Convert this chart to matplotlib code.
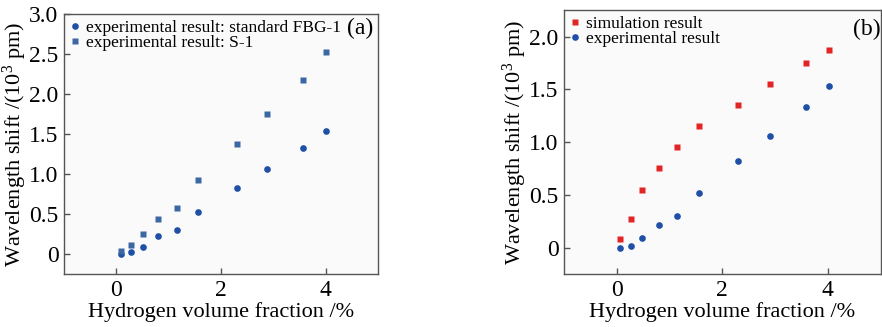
import matplotlib
matplotlib.use("Agg")
import matplotlib.pyplot as plt

plt.rcParams['font.family'] = ['Liberation Serif']
plt.rcParams['mathtext.fontset'] = 'custom'
plt.rcParams['mathtext.rm'] = 'Liberation Serif'
plt.rcParams['mathtext.it'] = 'Liberation Serif:italic'

# Panel (a)
x_a = [0.08, 0.28, 0.50, 0.80, 1.15, 1.56, 2.30, 2.88, 3.56, 4.00]
fbg1 = [0.00, 0.02, 0.09, 0.22, 0.30, 0.525, 0.82, 1.06, 1.33, 1.54]
s1 = [0.04, 0.11, 0.25, 0.44, 0.58, 0.92, 1.38, 1.75, 2.18, 2.53]

# Panel (b)
x_b = [0.06, 0.26, 0.48, 0.79, 1.14, 1.56, 2.30, 2.90, 3.59, 4.02]
sim = [0.08, 0.27, 0.55, 0.75, 0.95, 1.15, 1.35, 1.55, 1.75, 1.87]
exp_b = [0.00, 0.02, 0.095, 0.215, 0.30, 0.52, 0.82, 1.06, 1.335, 1.535]

xticks = [0, 2, 4]
yticks_a = [0, 0.5, 1.0, 1.5, 2.0, 2.5, 3.0]
yticklabels_a = ['0', '0.5', '1.0', '1.5', '2.0', '2.5', '3.0']
yticks_b = [0, 0.5, 1.0, 1.5, 2.0]
yticklabels_b = ['0', '0.5', '1.0', '1.5', '2.0']

xlabel = 'Hydrogen volume fraction /%'
ylabel = r'Wavelength shift /(10$^{\mathrm{3}}$ pm)'

blue = '#1f4fa6'
steel = '#3b68a3'
red = '#e32424'

fig = plt.figure(figsize=(8.82, 3.27), dpi=100)
ax1 = fig.add_axes([0.0726, 0.162, 0.356, 0.795])
ax2 = fig.add_axes([0.6395, 0.162, 0.359, 0.807])

for ax in (ax1, ax2):
    ax.set_facecolor('#fafafa')
    for sp in ax.spines.values():
        sp.set_color('#555555')
        sp.set_linewidth(1.0)
    ax.tick_params(direction='in', length=4, width=1.0, color='#555555',
                   labelsize=17, pad=4)
    ax.set_xlim(-1, 5)
    ax.set_xticks(xticks)
    ax.set_xticklabels([str(t) for t in xticks])
    ax.set_xlabel(xlabel, fontsize=16, labelpad=1)
    ax.set_ylabel(ylabel, fontsize=16, labelpad=0)

leg_kw = dict(loc='upper left', frameon=False, fontsize=12.5, handlelength=0.6,
              handletextpad=0.3, borderaxespad=0.15, labelspacing=-0.1,
              borderpad=0.2)

ax1.set_ylim(-0.25, 3.0)
ax1.set_yticks(yticks_a)
ax1.set_yticklabels(yticklabels_a)
ax1.plot(x_a, fbg1, 'o', color=blue, ms=4.8, mec='none',
         label='experimental result: standard FBG-1')
ax1.plot(x_a, s1, 's', color=steel, ms=4.3, mec='none',
         label='experimental result: S-1')
ax1.legend(**leg_kw)
ax1.text(0.943, 0.946, '(a)', transform=ax1.transAxes, ha='center', va='center',
         fontsize=17)

ax2.set_ylim(-0.25, 2.25)
ax2.set_yticks(yticks_b)
ax2.set_yticklabels(yticklabels_b)
ax2.plot(x_b, sim, 's', color=red, ms=4.5, mec='none', label='simulation result')
ax2.plot(x_b, exp_b, 'o', color=blue, ms=4.8, mec='none',
         label='experimental result')
ax2.legend(**leg_kw)
ax2.text(0.955, 0.928, '(b)', transform=ax2.transAxes, ha='center', va='center',
         fontsize=17)

fig.savefig('out.png', dpi=100)
